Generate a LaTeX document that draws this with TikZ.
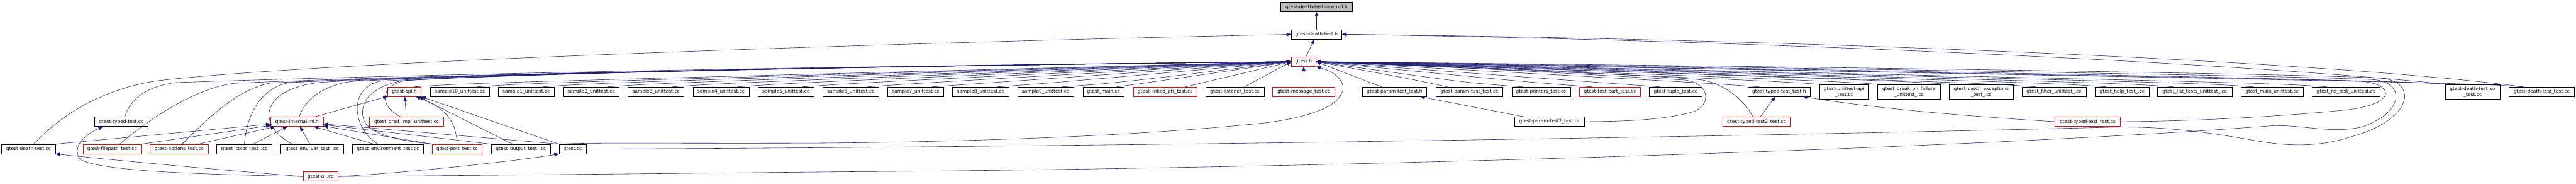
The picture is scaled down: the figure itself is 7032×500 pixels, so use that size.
\documentclass[tikz,border=0pt]{standalone}
\usepackage{fontspec}
\setmainfont{DejaVu Sans}
\usepackage{tikz}
\usetikzlibrary{arrows.meta}
\definecolor{doxnavy}{RGB}{25,25,112}
\definecolor{doxred}{RGB}{255,0,0}
\definecolor{doxgrey}{RGB}{191,191,191}

\begin{document}
\begin{tikzpicture}[x=0.02cm, y=0.02cm,
    file/.style={rectangle, draw=black, line width=0.55pt, minimum height=0.52cm,
                 inner sep=0pt, align=center, font=\fontsize{7.3}{8.7}\selectfont},
    trunc/.style={file, draw=doxred},
    root/.style={file, fill=doxgrey},
    twoline/.style={file, minimum height=0.8cm},
    dep/.style={{Triangle[length=0.25cm, width=0.2cm]}-, draw=doxnavy, line width=0.55pt},
  ]
  \path[use as bounding box, fill=white] (0,0) rectangle (7032,500);

  % Wurzel
  \node[root, minimum width=3.9cm] (internal) at (3594,481) {gtest-death-test-internal.h};
  \node[file, minimum width=2.76cm] (deathh) at (3594,406.5) {gtest-death-test.h};
  \node[trunc, minimum width=1.34cm] (gtesth) at (3559,332) {gtest.h};

  % Reihe 4
  \node[trunc, minimum width=1.82cm] (spih) at (1104,250) {gtest-spi.h};
  \node[file, minimum width=3.24cm] (sample10) at (1255.5,250) {sample10\_unittest.cc};
  \node[file, minimum width=3.06cm] (sample1) at (1436.5,250) {sample1\_unittest.cc};
  \node[file, minimum width=3.06cm] (sample2) at (1613.7,250) {sample2\_unittest.cc};
  \node[file, minimum width=3.06cm] (sample3) at (1790.9,250) {sample3\_unittest.cc};
  \node[file, minimum width=3.06cm] (sample4) at (1968.1,250) {sample4\_unittest.cc};
  \node[file, minimum width=3.06cm] (sample5) at (2145.3,250) {sample5\_unittest.cc};
  \node[file, minimum width=3.06cm] (sample6) at (2322.5,250) {sample6\_unittest.cc};
  \node[file, minimum width=3.06cm] (sample7) at (2499.7,250) {sample7\_unittest.cc};
  \node[file, minimum width=3.06cm] (sample8) at (2676.9,250) {sample8\_unittest.cc};
  \node[file, minimum width=3.06cm] (sample9) at (2854.1,250) {sample9\_unittest.cc};
  \node[file, minimum width=2.26cm] (gmain) at (3012.5,250) {gtest\_main.cc};
  \node[trunc, minimum width=3.49cm] (linked) at (3180.5,250) {gtest-linked\_ptr\_test.cc};
  \node[file, minimum width=3.18cm] (listener) at (3371,250) {gtest-listener\_test.cc};
  \node[trunc, minimum width=3.4cm] (message) at (3559,250) {gtest-message\_test.cc};
  \node[file, minimum width=3.52cm] (paramh) at (3807,250) {gtest-param-test\_test.h};
  \node[file, minimum width=3.66cm] (paramcc) at (4011,250) {gtest-param-test\_test.cc};
  \node[file, minimum width=3.2cm] (printers) at (4207,250) {gtest-printers\_test.cc};
  \node[trunc, minimum width=3.34cm] (testpart) at (4395,250) {gtest-test-part\_test.cc};
  \node[file, minimum width=2.86cm] (tuple) at (4574,250) {gtest-tuple\_test.cc};
  \node[file, minimum width=3.41cm] (typedh) at (4856.5,250) {gtest-typed-test\_test.h};
  \node[twoline, minimum width=2.7cm] (api) at (5034,250) {gtest-unittest-api\\\_test.cc};
  \node[twoline, minimum width=3.42cm] (breakf) at (5211,250) {gtest\_break\_on\_failure\\\_unittest\_.cc};
  \node[twoline, minimum width=3.5cm] (catchex) at (5408.5,250) {gtest\_catch\_exceptions\\\_test\_.cc};
  \node[file, minimum width=3.5cm] (filter) at (5607,250) {gtest\_filter\_unittest\_.cc};
  \node[file, minimum width=2.94cm] (help) at (5793,250) {gtest\_help\_test\_.cc};
  \node[file, minimum width=4.06cm] (listtests) at (5991,250) {gtest\_list\_tests\_unittest\_.cc};
  \node[file, minimum width=3.42cm] (mainut) at (6202,250) {gtest\_main\_unittest.cc};
  \node[file, minimum width=3.72cm] (notest) at (6404,250) {gtest\_no\_test\_unittest.cc};
  \node[twoline, minimum width=3.02cm] (deathex) at (6750,250) {gtest-death-test\_ex\\\_test.cc};
  \node[file, minimum width=3.56cm] (deathtest) at (6938,250) {gtest-death-test\_test.cc};

  % Reihe 5
  \node[file, minimum width=2.9cm] (typedcc) at (331,168.5) {gtest-typed-test.cc};
  \node[trunc, minimum width=2.86cm] (inl) at (811,168.5) {gtest-internal-inl.h};
  \node[trunc, minimum width=4.06cm] (predimpl) at (1110,168.5) {gtest\_pred\_impl\_unittest.cc};
  \node[file, minimum width=3.81cm] (param2) at (4230,168.5) {gtest-param-test2\_test.cc};
  \node[trunc, minimum width=3.71cm] (typed2) at (4795,168.5) {gtest-typed-test2\_test.cc};
  \node[trunc, minimum width=3.56cm] (typedtest) at (5699,168.5) {gtest-typed-test\_test.cc};

  % Reihe 6
  \node[file, minimum width=2.93cm] (deathcc) at (78,94) {gtest-death-test.cc};
  \node[trunc, minimum width=3.18cm] (filepath) at (306,94) {gtest-filepath\_test.cc};
  \node[trunc, minimum width=3.18cm] (options) at (489,94) {gtest-options\_test.cc};
  \node[file, minimum width=3.03cm] (color) at (667,94) {gtest\_color\_test\_.cc};
  \node[file, minimum width=3.42cm] (envvar) at (852,94) {gtest\_env\_var\_test\_.cc};
  \node[file, minimum width=3.9cm] (envir) at (1059,94) {gtest\_environment\_test.cc};
  \node[trunc, minimum width=2.72cm] (port) at (1248,94) {gtest-port\_test.cc};
  \node[file, minimum width=3.24cm] (output) at (1422,94) {gtest\_output\_test\_.cc};
  \node[file, minimum width=1.47cm] (gtestcc) at (1563,94) {gtest.cc};

  % Reihe 7
  \node[trunc, minimum width=1.9cm] (all) at (875,19) {gtest-all.cc};

  % gtest-death-test-internal.h, gtest-death-test.h
  \draw[dep] (internal) -- (deathh);
  \draw[dep] (deathh) -- (gtesth);
  \draw[dep] (deathh.west) .. controls (2500,385) and (900,335) .. (430,280)
    .. controls (260,255) and (150,170) .. ([xshift=0.28cm]deathcc.north);
  \draw[dep] (deathh.east) .. controls (4800,395) and (6300,340) .. ([xshift=-1cm]deathtest.north);
  \draw[dep] (deathh.east) .. controls (4800,390) and (6100,330) .. ([xshift=0.1cm]deathex.north west);

  % gtest.h von links
  \draw[dep] (gtesth.west) .. controls (1281,274) .. ([xshift=0.54cm]spih.north);
  \draw[dep] (gtesth.west) .. controls (1451,274) .. ([xshift=0.92cm]sample10.north);
  \draw[dep] (gtesth.west) .. controls (1631,274) .. ([xshift=0.9cm]sample1.north);
  \draw[dep] (gtesth.west) .. controls (1809,274) .. ([xshift=0.9cm]sample2.north);
  \draw[dep] (gtesth.west) .. controls (1986,274) .. ([xshift=0.9cm]sample3.north);
  \draw[dep] (gtesth.west) .. controls (2163,274) .. ([xshift=0.9cm]sample4.north);
  \draw[dep] (gtesth.west) .. controls (2340,274) .. ([xshift=0.9cm]sample5.north);
  \draw[dep] (gtesth.west) .. controls (2518,274) .. ([xshift=0.9cm]sample6.north);
  \draw[dep] (gtesth.west) .. controls (2695,274) .. ([xshift=0.9cm]sample7.north);
  \draw[dep] (gtesth.west) .. controls (2872,274) .. ([xshift=0.9cm]sample8.north);
  \draw[dep] (gtesth.west) .. controls (3049,274) .. ([xshift=0.9cm]sample9.north);
  \draw[dep] (gtesth.west) .. controls (3170,280) .. ([xshift=0.73cm]gmain.north);
  \draw[dep] (gtesth.west) -- ([xshift=1.12cm]linked.north);
  \draw[dep] (gtesth.west) -- ([xshift=0.52cm]listener.north);

  \draw[dep] (gtesth.west) .. controls (2000,318) and (900,290) .. (480,275)
    .. controls (400,265) and (355,230) .. ([xshift=0.2cm]typedcc.north);
  \draw[dep] (gtesth.west) .. controls (2000,316) and (1000,290) .. (640,273)
    .. controls (530,260) and (400,170) .. ([xshift=0.42cm]filepath.north);
  \draw[dep] (gtesth.west) .. controls (2000,316) and (1050,290) .. (740,274)
    .. controls (650,260) and (560,170) .. ([xshift=0.16cm]options.north);
  \draw[dep] (gtesth.west) .. controls (2000,316) and (1100,290) .. (790,275)
    .. controls (720,263) and (675,200) .. (color.north);
  \draw[dep] (gtesth.west) .. controls (2000,316) and (1130,291) .. (880,276)
    .. controls (720,262) and (690,165) .. ([xshift=-1.08cm]envvar.north);
  \draw[dep] (gtesth.west) .. controls (2000,316) and (1200,292) .. (960,278)
    .. controls (880,268) and (830,225) .. ([xshift=0.12cm]inl.north);
  \draw[dep] (gtesth.west) .. controls (2000,316) and (1250,292) .. (1040,279)
    .. controls (950,264) and (960,150) .. ([xshift=-0.54cm]envir.north);
  \draw[dep] (gtesth.west) .. controls (2000,316) and (1300,293) .. (1100,280)
    .. controls (1010,266) and (975,215) .. (995,168)
    .. controls (1020,125) and (1130,112) .. ([xshift=0.1cm]port.north west);
  \draw[dep] (gtesth.west) .. controls (2000,316) and (1300,293) .. (1110,281)
    .. controls (1040,270) and (1030,215) .. ([xshift=-0.34cm]predimpl.north);

  % gtest.h von rechts
  \draw[dep] (gtesth) -- (message);
  \draw[dep] (gtesth.east) -- ([xshift=-0.72cm]paramh.north);
  \draw[dep] (gtesth.east) .. controls (3850,285) .. ([xshift=-1.2cm]paramcc.north);
  \draw[dep] (gtesth.east) .. controls (4006,274) .. ([xshift=-1.02cm]printers.north);
  \draw[dep] (gtesth.east) .. controls (4195,274) .. ([xshift=-1cm]testpart.north);
  \draw[dep] (gtesth.east) .. controls (4381,274) .. ([xshift=-0.86cm]tuple.north);
  \draw[dep] (gtesth.east) .. controls (4653,274) .. ([xshift=-1.08cm]typedh.north);
  \draw[dep] (gtesth.east) .. controls (4818,280) .. ([xshift=0.05cm]api.north west);
  \draw[dep] (gtesth.east) .. controls (4977,280) .. ([xshift=0.05cm]breakf.north west);
  \draw[dep] (gtesth.east) .. controls (5172,280) .. ([xshift=0.05cm]catchex.north west);
  \draw[dep] (gtesth.east) .. controls (5407,274) .. ([xshift=-1cm]filter.north);
  \draw[dep] (gtesth.east) .. controls (5600,274) .. ([xshift=-0.86cm]help.north);
  \draw[dep] (gtesth.east) .. controls (5784,274) .. ([xshift=-1.14cm]listtests.north);
  \draw[dep] (gtesth.east) .. controls (6002,274) .. ([xshift=-1cm]mainut.north);
  \draw[dep] (gtesth.east) .. controls (6201,274) .. ([xshift=-1.06cm]notest.north);
  \draw[dep] (gtesth.east) .. controls (6526,280) .. ([xshift=0.05cm]deathex.north west);
  \draw[dep] (gtesth.east) .. controls (6738,274) .. ([xshift=-1cm]deathtest.north);

  \draw[dep] (gtesth.east) .. controls (4000,318) and (4450,290) .. (4600,282)
    .. controls (4670,272) and (4672,212) .. (4620,195)
    .. controls (4540,172) and (4420,169) .. (param2.east);
  \draw[dep] (gtesth.east) .. controls (4200,312) and (4560,290) .. (4640,283)
    .. controls (4700,276) and (4760,230) .. ([xshift=-0.2cm]typed2.north);
  \draw[dep] (gtesth.east) .. controls (5200,308) and (6200,288) .. (6440,279)
    .. controls (6540,272) and (6545,215) .. (6400,200)
    .. controls (6200,180) and (5950,169) .. (typedtest.east);
  \draw[dep] (gtesth.east) .. controls (5200,312) and (6300,292) .. (6480,283)
    .. controls (6565,276) and (6565,195) .. (6450,155)
    .. controls (6370,135) and (6300,158) .. (6210,158)
    .. controls (5400,95) and (3600,40) .. (2300,32)
    .. controls (1700,26) and (1300,22) .. (all.east);
  \draw[dep] (gtesth.east) .. controls (5200,316) and (6300,298) .. (6500,287)
    .. controls (6600,278) and (6590,175) .. (6420,128)
    .. controls (6340,102) and (6260,98) .. (6150,118)
    .. controls (6000,145) and (5880,157) .. (5750,153)
    .. controls (4500,122) and (2800,98) .. (gtestcc.east);
  \draw[dep] (gtesth.south east) .. controls (3660,300) and (3675,265) .. (3662,245)
    .. controls (3645,205) and (3560,178) .. (3450,165)
    .. controls (3100,128) and (2600,112) .. (2200,110)
    .. controls (1800,109) and (1600,112) .. (gtestcc.north west);

  % gtest-internal-inl.h
  \draw[dep] (inl) -- (deathcc.north east);
  \draw[dep] (inl) -- (filepath.north east);
  \draw[dep] (inl) -- ([xshift=-0.56cm]options.north east);
  \draw[dep] (inl) -- ([xshift=0.48cm]color.north);
  \draw[dep] (inl) -- ([xshift=-0.12cm]envvar.north);
  \draw[dep] (inl) -- ([xshift=-0.78cm]envir.north);
  \draw[dep] (inl) -- (port.north west);
  \draw[dep] (inl) -- (output.north west);
  \draw[dep] (inl) -- (gtestcc.north west);

  % gtest-spi.h
  \draw[dep] (spih) -- (inl);
  \draw[dep] (spih) -- (predimpl);
  \draw[dep] ([xshift=-0.3cm]spih.south east) .. controls (1190,215) and (1245,190) .. (port.north);
  \draw[dep] ([xshift=-0.15cm]spih.south east) -- ([xshift=-0.46cm]output.north);
  \draw[dep] (spih.south east) -- (gtestcc.north west);

  % Testheader
  \draw[dep] (paramh) -- (param2);
  \draw[dep] (typedh) -- (typed2);
  \draw[dep] ([xshift=-0.4cm]typedh.south east) .. controls (5150,200) and (5400,182) .. (typedtest.west);

  % gtest-all.cc
  \draw[dep] (gtestcc.south west) .. controls (1400,60) and (1100,28) .. (all.east);
  \draw[dep] (deathcc.south east) .. controls (400,55) and (650,33) .. (all.west);
  \draw[dep] ([xshift=-1cm]typedcc.south) .. controls (225,130) and (195,95) .. (220,65)
    .. controls (280,35) and (500,26) .. (all.west);
\end{tikzpicture}
\end{document}
